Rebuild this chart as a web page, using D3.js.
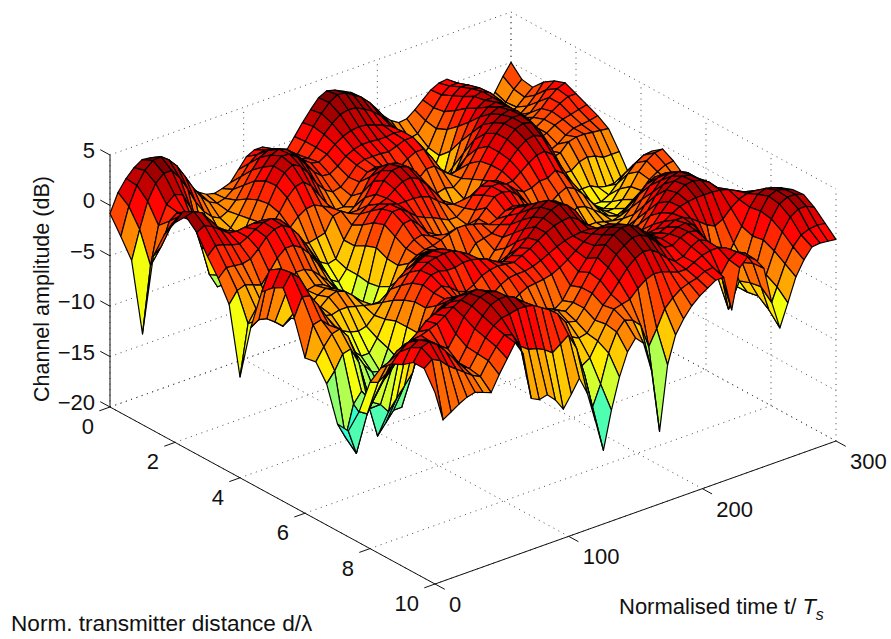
<!DOCTYPE html>
<html lang="en">
<head>
<meta charset="UTF-8">
<title>Channel amplitude surface</title>
<script src="https://cdn.jsdelivr.net/npm/d3@7"></script>
<style>
  html, body { margin: 0; background: #fff; }
  text { font-family: "Liberation Sans", Arial, sans-serif; font-size: 22px; fill: #111; }
</style>
</head>
<body>
<div class="surface-container"></div>
<script>
// tick labels
const zTicks = [-20, -15, -10, -5, 0, 5]
const dTicks = [0, 2, 4, 6, 8, 10]
const tTicks = [0, 100, 200, 300]

// mesh positions: one row every 1/3 of a wavelength, one column every 6 symbols
const distGrid = d3.range(31).map(i => i / 3)
const timeGrid = d3.range(0, 301, 6)

// channel amplitude in dB; rows follow distGrid, columns timeGrid
const amp = [
[-.8,1,2.1,2.9,3.4,3.3,2.8,2,1,0, -1,-1.8,-2.3,-2.5,-2.3,-2,-1,0,.4,.4, -.2,-.7,-.8,.3,1.4,2.4,3.3,3.7,3.5,3.1, 2.7,2,1,.2,-.7,-1.5,-2,-1.9,-1.3,-.6, .1,.5,.6,0,-.8,-2,-3.4,-3.6,-2.4,-1.1, 0],
[-2.5,.2,2,3.2,3.9,4,3.4,2.5,1.2,-.2, -1.4,-2.2,-2.6,-2.4,-1.8,-.8,.2,.8,1,.8, .2,-.4,-.6,.4,1.6,2.6,3.4,3.9,3.8,3.3, 2.8,2,1,-.2,-1.3,-2.4,-3,-2.8,-1.8,-.8, .2,.8,.8,.2,-.8,-2,-3.2,-3.6,-2.8,-1.8, -1.1],
[-4.3,-1.5,1,2.5,3.2,3.2,2.2,.8,-.8,-2, -2.8,-3.2,-2.8,-2,-.8,.4,1.4,1.8,1.7,1.2, .4,-.2,-.4,.4,1.4,2.2,2.8,3,2.9,2.5, 2,1.3,.4,-1.2,-2.8,-4,-4.5,-3.6,-2,-.6, .7,1.3,1.2,.4,-.8,-2,-3,-3.2,-2.7,-2, -1.3],
[-11,-4.5,-.8,1,1.7,1.4,-.2,-3,-5,-5, -4.3,-3.6,-2.6,-1.3,.2,1.3,2.2,2.5,2.2,1.5, .6,0,-.2,.3,1,1.5,1.8,1.9,1.8,1.5, 1.2,.8,0,-2,-4.5,-6,-5.6,-3.8,-1.5,.1, 1.2,1.7,1.5,.6,-.8,-2,-2.6,-2.6,-2,-1.2, -.2],
[-2.7,-2,.2,.8,.5,-.8,-3.5,-6.5,-8,-6.5, -5.5,-4,-2.4,-.8,.8,2,2.7,2.6,2,1, 0,-.7,-.8,-.3,.4,.8,1,1,.9,.9, 1,.9,0,-2.8,-6,-7.5,-5.5,-2.8,-.6,.9, 1.8,2,1.6,.6,-.9,-2,-2,-1.8,-1,-.1, .5],
[0,.8,1.3,.7,-.4,-1.5,-3.5,-6,-7,-6, -5,-3.6,-2.2,-.6,.9,1.9,2.4,2,1,-.3, -1.2,-1.7,-1.5,-.8,.1,.4,.4,.4,.3,.6, .9,.9,-.2,-2.5,-5,-5.5,-3.5,-1.2,.4,1.5, 2,2,1.4,.2,-1.2,-1.7,-1.4,-.8,0,.6, .9],
[1.8,2.6,2.3,1.4,.2,-.7,-2,-3.4,-3.6,-3.4, -3.2,-2.8,-2,-.9,.3,1.1,1.3,.6,-.6,-1.8, -2.6,-2.6,-1.8,-.7,0,.2,-.1,-.6,-.7,-.1, .3,.3,-.8,-2.2,-3.2,-3,-1.5,.2,1.5,2.2, 2.4,2,1,-.4,-1.6,-1.5,-1,-.5,0,.4, .4],
[3,3.2,2.8,1.8,.8,.2,-.3,-1,-1.2,-1.5, -2,-2.5,-2.4,-1.8,-1,-.5,-.4,-.8,-1.2,-2.2, -2.6,-2,-.9,.4,1,1,.4,-.8,-1.6,-1.5, -.8,-.8,-1.6,-2.2,-2,-1,.4,1.6,2.4,2.8, 2.6,1.9,.6,-1,-1.8,-1.5,-1,-.7,-.5,-.3, -.1],
[2,2.4,2,1.4,.8,.7,.8,.9,.9,.5, -.5,-1.6,-2.4,-2.8,-3,-2.8,-2.6,-1.2,-1,-1.5, -1.5,-.5,.8,1.6,2,1.8,1,-.4,-1.8,-2.8, -2.6,-2.4,-2.6,-2,-.8,.4,1.6,2.4,2.9,3.1, 2.7,1.6,.1,-1.5,-2.4,-2,-1.4,-1,-.9,-.8, -.6],
[.2,1,.8,.5,.3,.7,1.2,1.6,1.7,1.3, .4,-.9,-2.2,-3.4,-4.3,-4.8,-4.6,-3,-1.8,-1, -.4,.4,1.5,2.2,2.3,2,1.2,0,-1.6,-3, -3.8,-4,-3.2,-1.5,0,1.2,2.2,2.9,3.2,3.2, 2.5,1.2,-.5,-2.2,-2,-1.2,-1,-1,-1.1,-1.2, -1.3],
[-1.4,-.6,-.7,-.8,-.6,.1,1,1.5,1.6,1.1, .1,-1.2,-2.6,-4.2,-5.5,-6,-5,-3,-1.2,-.1, .3,.6,1.2,1.7,1.8,1.4,.5,-.5,-1.6,-2.6, -3.2,-3.2,-2.5,-1,.2,1.2,2.2,2.9,3.2,3, 2,.4,-1.5,-3.2,-3.2,-2.6,-2.4,-2.6,-3,-3, -3],
[-3.4,-2.3,-2,-2.3,-2.6,-1.6,-.5,.2,.2,-.3, -1.2,-2.4,-3.6,-5,-6.5,-7.4,-5,-2.4,-.4,.7, .9,.6,.6,.6,.5,.2,-.5,-1.1,-1.4,-1.3, -1.2,-1.2,-1.3,-.7,.2,1,1.8,2.4,2.6,2.2, 1,-.8,-3,-4.4,-4.4,-4.4,-4.8,-5,-5,-5, -4.9],
[-10,-5,-3.8,-4,-4.6,-3.8,-2.6,-1.6,-1.6,-2, -2.8,-3.6,-4.6,-5.8,-7,-7.8,-5.2,-2,0,1, 1,.4,-.3,-.7,-1,-1.4,-1.8,-1.8,-1.2,-.2, .4,.7,.4,-.3,-.2,.4,1,1.5,1.6,1, -.4,-2.3,-4,-5,-5.4,-5.4,-5,-4.2,-3.4,-2.9, -2.6],
[-4.5,-4,-4.2,-4.8,-5.5,-5,-3.8,-2.8,-2.6,-2.8, -3.4,-4.2,-5,-6,-6.8,-7,-5,-2.5,-.6,.4, .5,-.3,-1.3,-2,-2.4,-2.6,-2.6,-2,-.8,.4, 1,1,.6,-.2,-.7,-.6,-.2,-.2,.3,-.3, -1.4,-2.8,-4,-5,-5.2,-4.8,-3.8,-2.6,-1.8,-1.3, -1.2],
[-.4,1.5,.6,-1.4,-3.6,-4.6,-3.4,-2.7,-2.3,-2.6, -3.2,-4,-4.8,-5.6,-6.2,-6,-4.4,-2.6,-1.2,-.6, -.4,-.8,-1,-1.2,-1.6,-1.8,-1.6,-.8,0,.8, 1,.8,.1,-.9,-1.8,-2.2,-1.8,-1.2,-.8,-1.2, -2,-3,-4,-4.6,-4.6,-4,-3,-1.8,-1,-.5, -.4],
[.6,2.2,1.4,-.8,-2.8,-3.6,-3,-2.3,-2,-2.3, -3,-3.8,-4.6,-5.2,-5.6,-4.8,-3,-1.8,-1.3,-1, -.9,-.6,-.3,0,0,-.2,-.4,-.8,-.5,0, .2,-.2,-1,-2,-3,-3.4,-3.2,-2.8,-2.2,-2.4, -3,-3.6,-4.2,-4.4,-4,-3.4,-2.8,-2,-1.5,-1.1, -1],
[1.2,2.4,1.6,-.2,-2,-3,-3.2,-3,-3,-3.2, -3.4,-3.6,-3.6,-3.5,-3.4,-2.4,-1.2,-.5,-.3,-.4, -1,-1.8,-2.6,-2.2,-1.2,-1,-.8,-.2,.4,.9, .9,.3,-.8,-2,-3,-3.6,-3.8,-3.8,-3.4,-3.4, -3.6,-3.8,-3.6,-3,-2.4,-1.8,-1.6,-1.6,-1.8,-1.9, -1.9],
[-1.2,.6,.4,-.8,-2.2,-3.4,-4.2,-4.6,-4.8,-4.6, -3.8,-2.8,-1.8,-1,-.4,0,.4,.6,.5,0, -1.2,-2.8,-4,-3.8,-2.6,-1.6,-.6,.4,1.2,1.7, 1.6,.8,-.4,-1.6,-2.6,-3.2,-3.6,-3.8,-3.6,-3.4, -3.4,-3,-2.2,-1.2,-.4,0,-.2,-.7,-1.2,-1.5, -1.6],
[-4.6,-1.6,-1.4,-2.2,-3,-4.4,-5.6,-6.4,-6.4,-5.2, -3.6,-2,-.8,.2,.9,1.3,1.5,1.4,1,.4, -.6,-2,-3.2,-3,-2,-.8,.4,1.4,2.2,2.6, 2.4,1.5,.2,-1,-2.2,-3,-3.4,-3.4,-3.2,-3.2, -3,-2,-.8,.3,.8,1,.5,-.2,-.8,-1.2, -1.2],
[-4.4,-3.2,-2.2,-2,-3,-5,-6.4,-7.4,-7.6,-5.6, -3.2,-1.4,0,1,1.5,1.7,1.8,1.8,1.4,.9, .2,-.8,-1.6,-1.4,-.6,.4,1.4,2.3,3,3.4, 3,2,.7,-.7,-1.8,-2.6,-3,-3,-2.8,-2.4, -1.6,-.5,.5,1.4,1.8,1.7,1,.1,-.7,-1.2, -1.4],
[-6,-5,-3.6,-3.4,-5,-8,-8.4,-9,-9.2,-6.2, -3.2,-1,.4,1.1,1.2,1,1,1.2,1.2,1, .7,.2,-.1,.2,.7,1.4,2.2,2.8,3.3,3.6, 3.2,2.4,1,-.3,-1.3,-2,-2.4,-2.6,-2.2,-1.2, -.2,1,1.9,2.4,2.6,2.2,1.3,.2,-.8,-1.4, -1.7],
[-9.4,-11,-8,-7,-9,-12,-11,-10,-10,-6.6, -3.2,-1,.2,.6,.2,-.5,-.8,-.4,.2,.5, .6,.5,.4,.8,1.2,1.7,2.2,2.6,2.8,2.9, 2.4,1.6,.9,.2,-.5,-1.1,-1.5,-1.5,-.9,.2, 1.2,2.2,2.8,3,2.8,2.2,1.2,0,-1,-1.6, -1.9],
[-9.5,-12,-9,-7.5,-8,-9,-8,-7,-6,-3.6, -1.4,-.2,.2,.1,-.6,-1.5,-2,-1.6,-1,-.4, 0,.1,.1,.3,.6,1,1.4,1.7,1.9,2, 2,1.8,1.4,1,.8,.3,-.5,-.5,.2,1.1, 1.9,2.5,3,3.1,2.9,2.4,1.6,.8,.1,-.3, -.5],
[-7,-7.5,-6,-4.8,-4,-3,-2.2,-1.6,-1,-.3, .4,.8,1,.8,0,-1.2,-2.4,-2.6,-2.2,-1.6, -1,-.6,-.5,-.4,-.2,.2,.7,1.3,1.9,2.4, 2.7,2.8,2.4,1.9,1.3,.8,.5,.6,1.1,1.6, 2,2.2,2.3,2.3,2.3,2.2,2,1.6,1.2,.9, .7],
[-3.5,-3.8,-3.2,-2.4,-1.6,-.8,-.2,.6,1,1.3, 1.6,1.9,2,1.6,.6,-.7,-2.2,-3,-3.2,-3, -2.6,-2.2,-2.4,-2.8,-2.2,-1,.1,1.1,2.1,2.9, 3.4,3.4,3,2.4,1.7,1.2,1.1,1.4,1.8,1.8, 1.4,.8,.2,-.2,.2,1,1.6,1.9,1.9,1.7, 1.5],
[-1.5,-1.2,-.4,0,.2,.3,.6,.9,1.4,2, 2.4,2.8,2.9,2.5,1.6,.4,-1.2,-2.4,-3,-3, -2.6,-2,-2,-2.4,-1.8,-.6,.6,1.8,2.8,3.5, 3.9,3.9,3.4,2.6,1.8,1.4,1.6,2,2.1,1.6, .4,-1.2,-4.4,-3,-1.6,-.2,1.4,2.4,2.7,2.5, 2.2],
[-.5,.4,1,1,.7,.2,-.4,-1,.2,1.6, 2.4,3,3.2,3,2.3,1.3,.2,-1,-1.8,-2.2, -2.4,-2.4,-2.6,-2.8,-1.8,-.6,.4,1.4,2.4,3, 3.5,3.5,3,2.2,1.4,1.3,1.8,2.1,1.9,.9, -.8,-2.8,-7,-5,-3,-.6,1.6,2.8,3.1,2.9, 2.6],
[0,1.4,1.9,1.6,1,.1,-1,-1.8,-.5,1, 2,2.8,3.1,3.1,2.7,2,1.2,.4,-.6,-1.4, -2.4,-3.2,-3.6,-3.4,-2.4,-1.2,-.4,.6,1.6,2.3, 2.7,2.6,2,1.2,.6,.8,1.5,1.9,1.5,.6, -.4,-1.6,-3.6,-5,-3,-.4,1.4,2.6,3,3, 2.7],
[.8,2,2.3,1.7,.8,-.2,-1.2,-1.8,-.6,.7, 1.6,2.1,2.2,2.4,2.4,2.2,1.7,1.2,.5,-.6, -3,-5.5,-5,-3.6,-2.2,-1,-.8,-.6,.2,.8, 1.1,1,.7,.4,.4,.8,1.2,1.4,1.4,1.1, .4,-.9,-3.2,-4.8,-3,-.9,.7,1.9,2.4,2.4, 2],
[.8,1.4,1,.2,-.4,-1,-1.6,-2,-.7,.4, 1.3,1,-.4,-1,-1.2,-1.6,-2.2,-1.6,-1,-2.6, -5.5,-9,-7,-4.2,-2.4,-1.5,-1.8,-2.6,-5,-3.5, -1.8,-1,-.4,-.1,.1,.5,.6,-.4,.8,1.3, .9,-.4,-3,-5.6,-3.6,-1.6,-.2,.7,1,1.1, 1],
[-1,-4,-3.5,-3,-2.6,-2.4,-2.7,-3,-1.5,-.2, 1.1,-.3,-5,-5.4,-5.2,-6,-7.2,-6,-4.7,-6.5, -9.5,-12.7,-9,-6,-3.8,-2.7,-3.5,-6.5,-12.8,-6.5, -3.8,-2.5,-1.5,-.8,-.3,.2,.2,-3.3,.6,1.4, .8,-.3,-4,-6.8,-4.6,-2.3,-.9,.1,.2,.1, 0]
]

const width = 891
const height = 639
const svg = d3.select('.surface-container')
    .append('svg')
    .attr('width', width)
    .attr('height', height)

// the 3d view is three linear scales added together
const originX = 110
const zScale = d3.scaleLinear().domain([-20, 5]).range([407, 155])
const dScaleX = d3.scaleLinear().domain([0, 10]).range([0, 325])
const dScaleY = d3.scaleLinear().domain([0, 10]).range([0, 177])
const tScaleX = d3.scaleLinear().domain([0, 300]).range([0, 401])
const tScaleY = d3.scaleLinear().domain([0, 300]).range([0, -143])

function project(d, t, z) {
    return [originX + dScaleX(d) + tScaleX(t), zScale(z) + dScaleY(d) + tScaleY(t)]
}

// jet colormap cut in 32 steps
const jet = d3.scaleLinear()
    .domain([0, 0.125, 0.375, 0.625, 0.875, 1])
    .range(['#00007f', '#0000ff', '#00ffff', '#ffff00', '#ff0000', '#7f0000'])
    .clamp(true)
const colorOf = z => {
    const p = (z + 20.6) / 24.8
    return jet(Math.floor(Math.min(p, 0.999) * 32) / 31)
}

const line3d = d3.line()

function drawGrid() {
    const segs = []
    dTicks.forEach(d => {
        segs.push([[d, 0, -20], [d, 300, -20]])
        segs.push([[d, 300, -20], [d, 300, 5]])
    })
    tTicks.forEach(t => {
        segs.push([[0, t, -20], [10, t, -20]])
        segs.push([[0, t, -20], [0, t, 5]])
    })
    zTicks.forEach(z => {
        segs.push([[0, 0, z], [0, 300, z]])
        segs.push([[0, 300, z], [10, 300, z]])
    })
    svg.append('g').selectAll('path')
        .data(segs)
        .join('path')
        .attr('d', s => line3d(s.map(p => project(p[0], p[1], p[2]))))
        .attr('fill', 'none')
        .attr('stroke', '#333')
        .attr('stroke-width', 0.9)
        .attr('stroke-dasharray', '1 4.6')
}

function drawAxes() {
    const solid = [
        [[0, 0, -20], [10, 0, -20]],
        [[10, 0, -20], [10, 300, -20]],
        [[0, 0, -20], [0, 0, 5]]
    ]
    zTicks.forEach(z => solid.push([[0, 0, z], [-0.3, 0, z]]))
    dTicks.forEach(d => solid.push([[d, 0, -20], [d, -8, -20]]))
    tTicks.forEach(t => solid.push([[10, t, -20], [10.3, t, -20]]))
    svg.append('g').selectAll('path')
        .data(solid)
        .join('path')
        .attr('d', s => line3d(s.map(p => project(p[0], p[1], p[2]))))
        .attr('fill', 'none')
        .attr('stroke', '#111')
        .attr('stroke-width', 1)

    svg.append('g').selectAll('text')
        .data(zTicks)
        .join('text')
        .attr('x', 95)
        .attr('y', z => zScale(z) + 3)
        .attr('text-anchor', 'end')
        .text(z => String(z).replace('-', '\u2212'))
    svg.append('g').selectAll('text')
        .data(dTicks)
        .join('text')
        .attr('x', d => project(d, 0, -20)[0] - 16)
        .attr('y', d => project(d, 0, -20)[1] + 27)
        .attr('text-anchor', 'end')
        .text(d => d)
    svg.append('g').selectAll('text')
        .data(tTicks)
        .join('text')
        .attr('x', t => project(10, t, -20)[0] + 14)
        .attr('y', t => project(10, t, -20)[1] + 28)
        .text(t => t)
}

function drawSurface() {
    // back to front, the view looks from d = 10, t = 0
    const cells = []
    for (let i = 0; i < distGrid.length - 1; i++) {
        for (let j = timeGrid.length - 2; j >= 0; j--) {
            cells.push({
                z: (amp[i][j] + amp[i + 1][j] + amp[i][j + 1] + amp[i + 1][j + 1]) / 4,
                pts: [
                    project(distGrid[i], timeGrid[j], amp[i][j]),
                    project(distGrid[i + 1], timeGrid[j], amp[i + 1][j]),
                    project(distGrid[i + 1], timeGrid[j + 1], amp[i + 1][j + 1]),
                    project(distGrid[i], timeGrid[j + 1], amp[i][j + 1])
                ]
            })
        }
    }
    svg.append('g').selectAll('path')
        .data(cells)
        .join('path')
        .attr('d', c => line3d(c.pts) + 'Z')
        .attr('fill', c => colorOf(c.z))
        .attr('stroke', '#000')
        .attr('stroke-width', 1.2)
        .attr('stroke-linejoin', 'round')
}

function drawLabels() {
    svg.append('text')
        .attr('transform', 'translate(49,402) rotate(-90)')
        .style('font-size', '21.5px')
        .text('Channel amplitude (dB)')
    svg.append('text')
        .attr('x', 11)
        .attr('y', 631)
        .style('font-size', '22.6px')
        .text('Norm. transmitter distance d/\u03bb')
    const tLabel = svg.append('text')
        .attr('x', 619)
        .attr('y', 614)
    tLabel.append('tspan').text('Normalised time t/ ')
    tLabel.append('tspan').attr('font-style', 'italic').text('T')
    tLabel.append('tspan').attr('font-style', 'italic').attr('dy', 6).style('font-size', '16px').text('s')
}

drawGrid()
drawAxes()
drawSurface()
drawLabels()
</script>
</body>
</html>
